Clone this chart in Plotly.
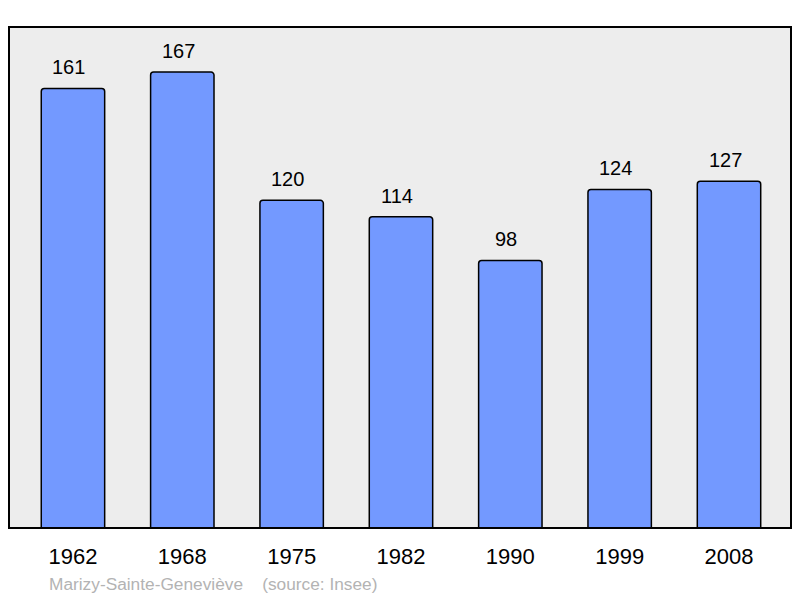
import plotly.graph_objects as go

# population data
years = ["1962", "1968", "1975", "1982", "1990", "1999", "2008"]
population = [161, 167, 120, 114, 98, 124, 127]

commune = "Marizy-Sainte-Geneviève"
source = "(source: Insee)"

fig = go.Figure(go.Bar(
    x=years,
    y=population,
    width=0.58,
    marker=dict(color="#7399ff", line=dict(color="black", width=1.5), cornerradius=3),
    hoverinfo="x+y",
))

# value labels above bars (category index used for x)
for i, val in enumerate(population):
    fig.add_annotation(
        x=i, y=val, text=str(val), showarrow=False,
        yanchor="bottom", yshift=8, xshift=-4,
        font=dict(size=20, color="black"),
    )

# footer text
fig.add_annotation(
    xref="paper", yref="paper", x=0.0486, y=-0.112,
    xanchor="left", yanchor="middle", showarrow=False,
    text=commune + "&nbsp;&nbsp;&nbsp;&nbsp;" + source,
    font=dict(size=17.3, color="#b3b3b3"),
)

# frame around the plot area
fig.add_shape(
    type="rect", xref="paper", yref="paper", x0=0, y0=0, x1=1, y1=1,
    line=dict(color="black", width=2), layer="above",
)

fig.update_xaxes(
    type="category", range=[-0.585, 6.567],
    showgrid=False, zeroline=False, showline=False,
    ticks="", ticklabelstandoff=13,
    tickfont=dict(size=22, color="black"),
)
fig.update_yaxes(
    range=[0, 183.5], showgrid=False, zeroline=False,
    showticklabels=False, showline=False,
)

fig.update_layout(
    width=800, height=598,
    margin=dict(l=9, r=9, t=27, b=70),
    paper_bgcolor="white",
    plot_bgcolor="#ededed",
    font=dict(family="Liberation Sans, Arial, sans-serif"),
    showlegend=False,
)

# drop the browser's default body margin so the figure fills the window
fig.write_html(
    "out.html",
    config={"displayModeBar": False},
    post_script="document.body.style.margin='0';",
)
